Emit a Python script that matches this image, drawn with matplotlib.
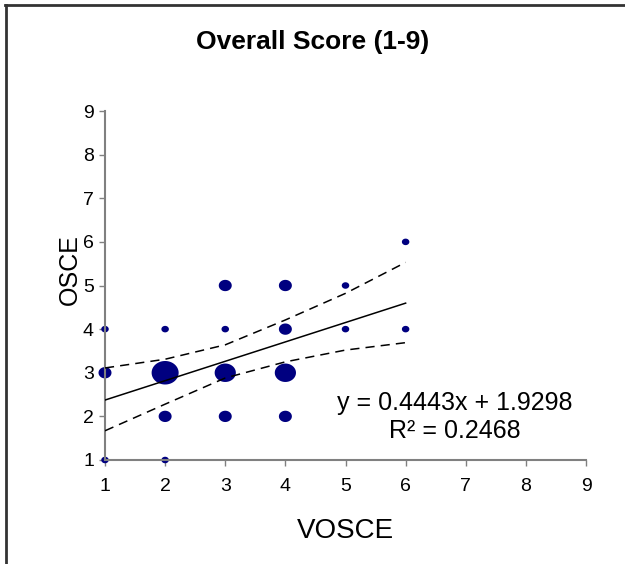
import matplotlib
matplotlib.use('Agg')
import matplotlib.pyplot as plt
import numpy as np
from matplotlib.path import Path
from matplotlib.lines import Line2D

plt.rcParams['font.family'] = ['Liberation Sans', 'DejaVu Sans']

# bubble data: VOSCE, OSCE, count
vosce = [1, 1, 1, 2, 2, 2, 2, 3, 3, 3, 3, 4, 4, 4, 4, 5, 5, 6, 6]
osce = [1, 3, 4, 1, 2, 3, 4, 2, 3, 4, 5, 2, 3, 4, 5, 4, 5, 4, 6]
counts = [1, 3, 1, 1, 3, 13, 1, 3, 8, 1, 3, 3, 8, 3, 3, 1, 1, 1, 1]

# trendline and confidence band
slope = 0.4443
intercept = 1.9298
band_x = [1, 2, 3, 4, 5, 6]
band_upper = [3.11, 3.31, 3.64, 4.21, 4.82, 5.53]
band_lower = [1.67, 2.28, 2.88, 3.25, 3.52, 3.69]

ticks = [1, 2, 3, 4, 5, 6, 7, 8, 9]

fig = plt.figure(figsize=(6.25, 5.64), dpi=100)
ax = fig.add_axes([105/625, 1-460/564, 481/625, 349/564])

# slightly wide ellipse marker like the original
t = np.linspace(0, 2*np.pi, 60)
verts = np.column_stack([np.cos(t), 0.87*np.sin(t)])
ellipse = Path(verts, closed=True)

sizes = [(0.72*7.5)**2 * c for c in counts]
ax.scatter(vosce, osce, s=sizes, marker=ellipse, color='#000080',
           linewidths=0, zorder=2, clip_on=False)

xs = np.array([band_x[0], band_x[-1]])
ax.plot(xs, slope*xs + intercept, color='black', lw=1.1, zorder=3)
ax.plot(band_x, band_upper, color='black', lw=1.1, ls=(0, (6, 4)), zorder=3)
ax.plot(band_x, band_lower, color='black', lw=1.1, ls=(0, (6, 4)), zorder=3)

ax.set_xlim(1, 9)
ax.set_ylim(1, 9)
ax.set_xticks(ticks)
ax.set_yticks(ticks)
ax.tick_params(direction='out', length=4, width=1, color='#808080',
               labelsize=14)
ax.tick_params(axis='x', pad=9)
ax.tick_params(axis='y', pad=4)
for side in ['top', 'right']:
    ax.spines[side].set_visible(False)
for side in ['left', 'bottom']:
    ax.spines[side].set_color('#808080')
    ax.spines[side].set_linewidth(1.5)

ax.set_xlabel('VOSCE', fontsize=20)
ax.xaxis.set_label_coords(0.499, -0.165)
ax.set_ylabel('OSCE', fontsize=18)
ax.yaxis.set_label_coords(-0.048, 0.545)

ax.text(0.728, 0.123, 'y = 0.4443x + 1.9298\nR² = 0.2468', transform=ax.transAxes,
        ha='center', va='center', fontsize=18, linespacing=1.25)

fig.text(0.5, 1-42/564, 'Overall Score (1-9)', ha='center', va='center',
         fontsize=19, fontweight='bold')

# chart frame (left and top edges visible)
fig.add_artist(Line2D([6/625, 6/625], [0, 1-5/564], color='#333333', lw=2,
                      transform=fig.transFigure))
fig.add_artist(Line2D([5/625, 1], [1-5/564, 1-5/564], color='#333333', lw=2,
                      transform=fig.transFigure))

fig.savefig('out.png', dpi=100)
